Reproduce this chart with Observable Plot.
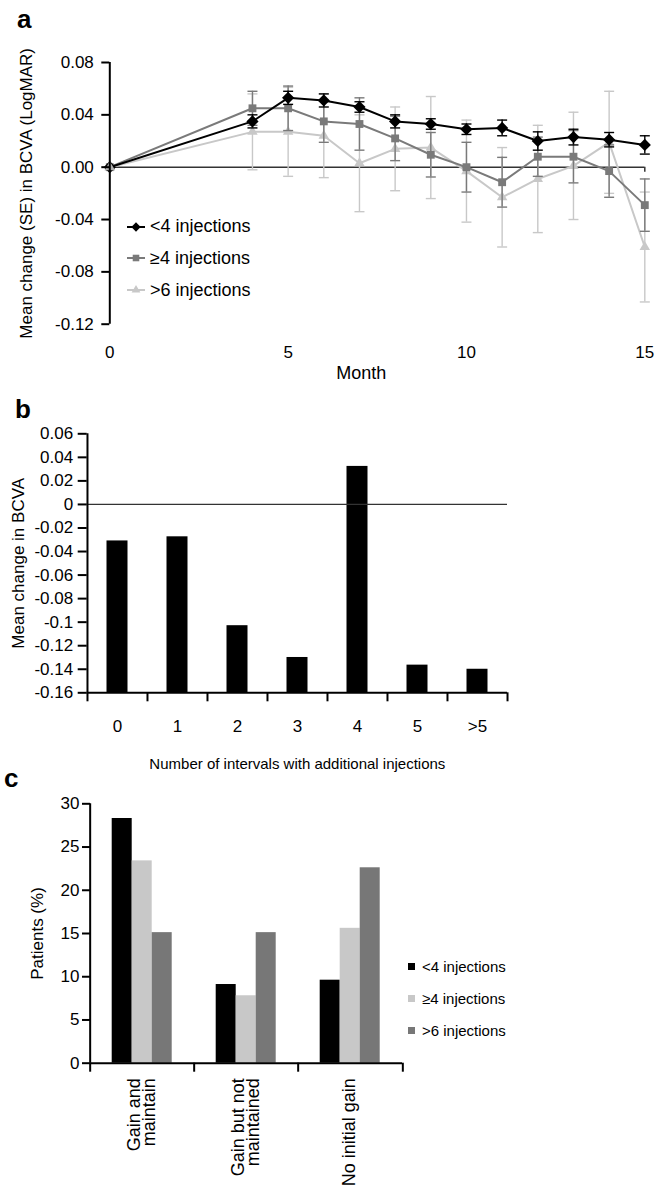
<!DOCTYPE html>
<html><head><meta charset="utf-8">
<script src="https://cdn.jsdelivr.net/npm/d3@7"></script>
<script src="https://cdn.jsdelivr.net/npm/@observablehq/plot@0.6"></script>
<style>
body{margin:0;background:#fff;font-family:"Liberation Sans",Arial,sans-serif;color:#000;}
#root{position:relative;width:662px;height:1186px;overflow:hidden;background:#fff;}
.panel{position:absolute;left:0;}
.panel svg{overflow:visible;}
.lab{position:absolute;font-weight:bold;font-size:26px;line-height:26px;}
.leg{position:absolute;display:flex;align-items:center;white-space:nowrap;}
</style></head><body><div id="root"></div>
<script>
// ---------- Panel a data ----------
const months = [0, 4, 5, 6, 7, 8, 9, 10, 11, 12, 13, 14, 15];
const seriesNames = ["<4 injections", "≥4 injections", ">6 injections"];
const lt4Mean = [0, 0.035, 0.053, 0.051, 0.046, 0.035, 0.033, 0.029, 0.030, 0.020, 0.023, 0.021, 0.017];
const lt4SE   = [null, 0.005, 0.005, 0.005, 0.004, 0.005, 0.004, 0.004, 0.006, 0.007, 0.006, 0.0055, 0.007];
const ge4Mean = [0, 0.045, 0.045, 0.035, 0.033, 0.022, 0.0095, 0, -0.0115, 0.008, 0.008, -0.003, -0.029];
const ge4SE   = [null, 0.013, 0.017, 0.016, 0.02, 0.017, 0.017, 0.019, 0.019, 0.015, 0.02, 0.02, 0.02];
const gt6Mean = [0, 0.027, 0.027, 0.024, 0.003, 0.014, 0.015, -0.003, -0.023, -0.009, 0.001, 0.019, -0.061];
const gt6SE   = [null, 0.029, 0.034, 0.032, 0.037, 0.032, 0.039, 0.039, 0.038, 0.041, 0.041, 0.039, 0.042];
const aYTicks = [-0.12, -0.08, -0.04, 0, 0.04, 0.08];
const aXTicks = [0, 5, 10, 15];

// ---------- Panel b data ----------
const intervals = ["0", "1", "2", "3", "4", "5", ">5"];
const intervalChange = [-0.031, -0.0275, -0.103, -0.13, 0.0323, -0.1365, -0.14];
const bYTicks = [-0.16, -0.14, -0.12, -0.1, -0.08, -0.06, -0.04, -0.02, 0, 0.02, 0.04, 0.06];

// ---------- Panel c data ----------
const outcomes = ["Gain and\nmaintain", "Gain but not\nmaintained", "No initial gain"];
const lt4Pct = [28.3, 9.1, 9.6];
const ge4Pct = [23.4, 7.8, 15.6];
const gt6Pct = [15.1, 15.1, 22.6];
const cYTicks = [0, 5, 10, 15, 20, 25, 30];

// ---------- styling ----------
const W = 662;
const FONT = "Liberation Sans, Arial, sans-serif";
const colA = ["#000000", "#7a7a7a", "#c8c8c8"];
const symA = ["diamond2", "square2", "triangle2"];
const rA = [5.5, 5, 5];
const colC = ["#000000", "#c8c8c8", "#777777"];
const root = document.getElementById("root");
function place(node, top) {
  const d = document.createElement("div");
  d.className = "panel"; d.style.top = top + "px";
  d.appendChild(node); root.appendChild(d);
}
function label(txt, left, top) {
  const d = document.createElement("div");
  d.className = "lab"; d.textContent = txt;
  d.style.left = left + "px"; d.style.top = top + "px";
  root.appendChild(d);
}
const capSymbol = {draw(ctx, size) { const r = Math.sqrt(size / Math.PI); ctx.moveTo(-r, 0); ctx.lineTo(r, 0); }};

// ---------- Panel a ----------
const meansA = [lt4Mean, ge4Mean, gt6Mean];
const sesA = [lt4SE, ge4SE, gt6SE];
const rowsA = seriesNames.map((s, k) => months.map((m, i) => ({series: s, month: m, mean: meansA[k][i], se: sesA[k][i]})));
const A_TOP = 0, A_H = 380;
const seriesMarks = [];
for (const k of [2, 1, 0]) {
  const rows = rowsA[k];
  const eb = rows.filter(d => d.se != null);
  const c = colA[k];
  seriesMarks.push(
    Plot.ruleX(eb, {x: "month", y1: d => d.mean - d.se, y2: d => d.mean + d.se, stroke: c, strokeWidth: 1.4}),
    Plot.dot(eb, {x: "month", y: d => d.mean + d.se, symbol: capSymbol, r: 5, stroke: c, fill: "none", strokeWidth: 1.4}),
    Plot.dot(eb, {x: "month", y: d => d.mean - d.se, symbol: capSymbol, r: 5, stroke: c, fill: "none", strokeWidth: 1.4}),
    Plot.line(rows, {x: "month", y: "mean", stroke: c, strokeWidth: 2}),
    Plot.dot(rows, {x: "month", y: "mean", symbol: symA[k], r: rA[k], fill: c, stroke: "none"})
  );
}
const plotA = Plot.plot({
  width: W, height: A_H,
  marginTop: 62 - A_TOP, marginBottom: A_TOP + A_H - 323.7, marginLeft: 109.3, marginRight: W - 644.3,
  x: {domain: [aXTicks[0], aXTicks[aXTicks.length - 1]]},
  y: {domain: [aYTicks[0], aYTicks[aYTicks.length - 1]]},
  style: {fontFamily: FONT, fontSize: "17px", color: "#000", background: "transparent"},
  marks: [
    Plot.ruleY([0], {stroke: "#333", strokeWidth: 1.5}),
    Plot.ruleX([aXTicks[aXTicks.length - 1]], {y1: 0, y2: 0, insetBottom: -5, stroke: "#333", strokeWidth: 1.5}),
    ...seriesMarks,
    Plot.dot(rowsA[2].slice(0, 1), {x: "month", y: "mean", symbol: symA[2], r: rA[2], fill: "#b0b0b0", stroke: "none"}),
    Plot.ruleX([aXTicks[0]], {y1: aYTicks[0], y2: aYTicks[aYTicks.length - 1], strokeWidth: 2}),
    Plot.axisY({ticks: aYTicks, tickSize: 8, tickPadding: 8, tickFormat: d => d.toFixed(2), label: null, strokeWidth: 2}),
    Plot.axisX({ticks: aXTicks, tickSize: 0, tickPadding: 22, label: null}),
    Plot.text(["Month"], {frameAnchor: "bottom", dy: 54.3, dx: -16, fontSize: 18}),
    Plot.text(["Mean change (SE) in BCVA (LogMAR)"], {frameAnchor: "left", textAnchor: "middle", rotate: -90, dx: -83.5, fontSize: 17})
  ]
});
place(plotA, A_TOP);
label("a", 17, 6);
// legend a
const legA = [226.7, 258, 290];
seriesNames.forEach((s, k) => {
  const d = document.createElement("div");
  d.className = "leg"; d.style.left = "126px"; d.style.top = (legA[k] - 11) + "px"; d.style.height = "22px";
  d.style.fontSize = "18px";
  const sym = {diamond2: d3.symbolDiamond2, square2: d3.symbolSquare2, triangle2: d3.symbolTriangle2}[symA[k]];
  const path = d3.symbol(sym, 55)();
  d.innerHTML = `<svg width="20" height="14" style="margin-right:4px"><line x1="1" x2="19" y1="7" y2="7" stroke="${colA[k]}" stroke-width="2"/><path transform="translate(10,7)" d="${path}" fill="${colA[k]}"/></svg><span>${s.replace("<", "&lt;").replace(">", "&gt;")}</span>`;
  root.appendChild(d);
});

// ---------- Panel b ----------
const B_TOP = 395, B_H = 390;
const bLeft = 86.7, bRight = 507;
const bw = (bRight - bLeft) / intervals.length;
const bBase = bYTicks[0], bTop = bYTicks[bYTicks.length - 1];
const rowsB = intervals.map((k, i) => ({k, v: intervalChange[i]}));
const plotB = Plot.plot({
  width: W, height: B_H,
  marginTop: 433.3 - B_TOP, marginBottom: B_TOP + B_H - 692.3, marginLeft: bLeft, marginRight: W - bRight,
  x: {type: "band", domain: intervals, paddingInner: 0, paddingOuter: 0},
  y: {domain: [bBase, bTop]},
  style: {fontFamily: FONT, fontSize: "17px", color: "#000", background: "transparent"},
  marks: [
    Plot.barY(rowsB, {x: "k", y1: bBase, y2: "v", fill: "#000", insetLeft: 19.5, insetRight: 19.5}),
    Plot.ruleY([0], {stroke: "#333", strokeWidth: 1.3}),
    Plot.ruleY([bBase], {strokeWidth: 2}),
    Plot.ruleX(intervals, {x: d => d, y1: bBase, y2: bBase, insetBottom: -9, dx: -bw / 2, strokeWidth: 2}),
    Plot.ruleX([intervals[intervals.length - 1]], {x: d => d, y1: bBase, y2: bBase, insetBottom: -9, dx: bw / 2, strokeWidth: 2}),
    Plot.ruleX([intervals[0]], {x: d => d, y1: bBase, y2: bTop, dx: -bw / 2, strokeWidth: 2}),
    Plot.axisY({ticks: bYTicks, tickSize: 9, tickPadding: 5, tickFormat: d => String(Math.round(d * 100) / 100), label: null, strokeWidth: 2}),
    Plot.axisX({tickSize: 0, tickPadding: 26.7, label: null}),
    Plot.text(["Number of intervals with additional injections"], {frameAnchor: "bottom", dy: 75.7, fontSize: 15}),
    Plot.text(["Mean change in BCVA"], {frameAnchor: "left", textAnchor: "middle", rotate: -90, dx: 18 - bLeft, fontSize: 17})
  ]
});
place(plotB, B_TOP);
label("b", 15, 396);

// ---------- Panel c ----------
const C_TOP = 790, C_H = 396;
const cLeft = 89.3, cRight = 403.3;
const fw = (cRight - cLeft) / outcomes.length;
const pctC = [lt4Pct, ge4Pct, gt6Pct];
const rowsC = [];
outcomes.forEach((o, i) => seriesNames.forEach((s, k) => rowsC.push({outcome: o, group: s, v: pctC[k][i]})));
const plotC = Plot.plot({
  width: W, height: C_H,
  marginTop: 803.3 - C_TOP, marginBottom: C_TOP + C_H - 1062.7, marginLeft: cLeft, marginRight: W - cRight,
  fx: {domain: outcomes, paddingInner: 0, paddingOuter: 0, axis: null},
  x: {domain: seriesNames, paddingInner: 0, paddingOuter: 1.05, axis: null},
  y: {domain: [cYTicks[0], cYTicks[cYTicks.length - 1]]},
  color: {domain: seriesNames, range: colC},
  style: {fontFamily: FONT, fontSize: "17px", color: "#000", background: "transparent"},
  marks: [
    Plot.barY(rowsC, {fx: "outcome", x: "group", y: "v", fill: "group"}),
    Plot.ruleY([0], {strokeWidth: 2}),
    Plot.ruleX([0], {x: null, y1: 0, y2: 0, insetBottom: -9, dx: -fw / 2, strokeWidth: 2}),
    Plot.ruleX([0], {x: null, y1: 0, y2: 0, insetBottom: -9, dx: fw / 2, strokeWidth: 2, facetAnchor: "right"}),
    Plot.ruleX([0], {x: null, y1: cYTicks[0], y2: cYTicks[cYTicks.length - 1], dx: -fw / 2, strokeWidth: 2, facetAnchor: "left"}),
    Plot.axisY({ticks: cYTicks, tickSize: 8, tickPadding: 3, label: null, strokeWidth: 2}),
    Plot.axisFx({anchor: "bottom", tickSize: 0, tickRotate: -90, tickPadding: 15, label: null, fontSize: 18, lineHeight: 0.85}),
    Plot.text(["Patients (%)"], {frameAnchor: "left", textAnchor: "middle", rotate: -90, dx: 36.7 - cLeft, fontSize: 17, facetAnchor: "left"})
  ]
});
place(plotC, C_TOP);
label("c", 4, 765);
// legend c
const legC = [966.7, 998.3, 1030];
seriesNames.forEach((s, k) => {
  const d = document.createElement("div");
  d.className = "leg"; d.style.left = "408px"; d.style.top = (legC[k] - 10) + "px"; d.style.height = "20px";
  d.style.fontSize = "15px";
  d.innerHTML = `<span style="display:inline-block;width:7px;height:7px;background:${colC[k]};margin-right:7px"></span><span>${s.replace("<", "&lt;").replace(">", "&gt;")}</span>`;
  root.appendChild(d);
});
</script></body></html>
